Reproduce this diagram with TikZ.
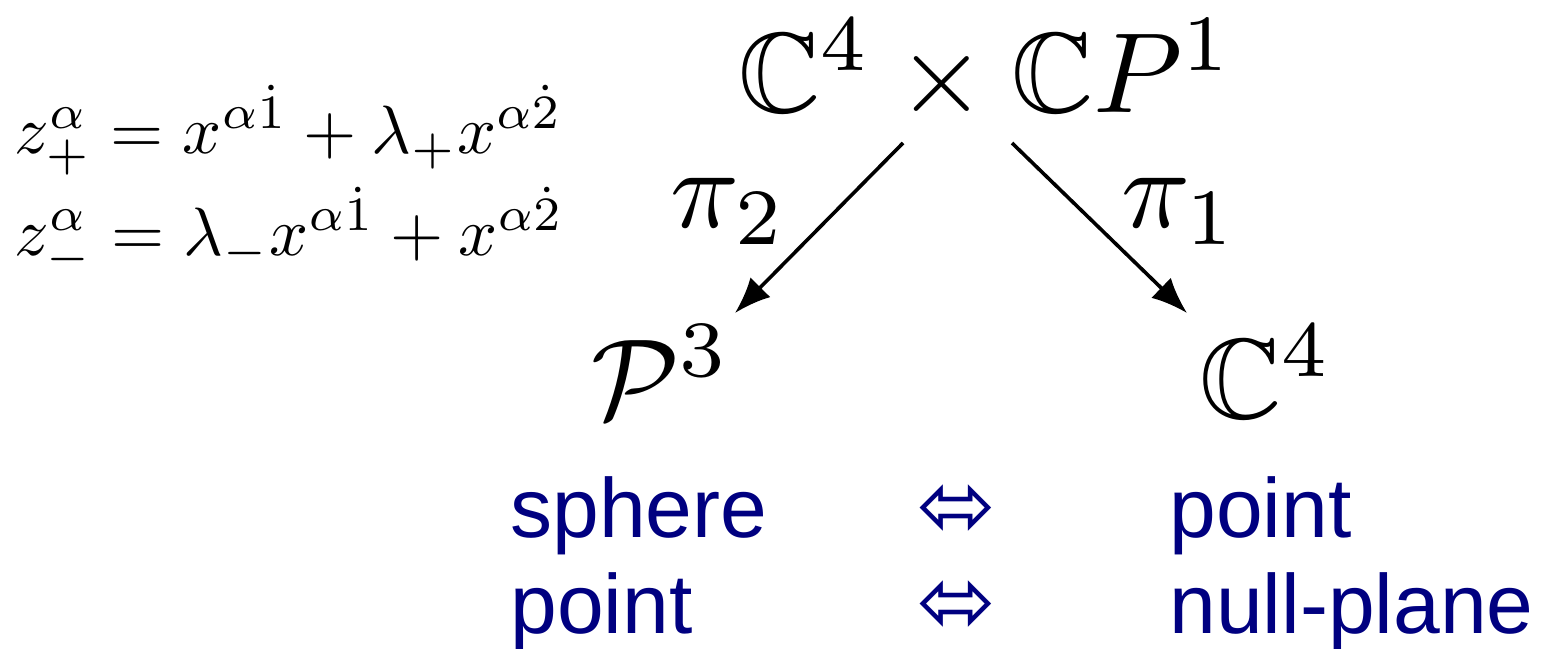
\documentclass[tikz,border=0pt]{standalone}
\usepackage{amsmath}
\usepackage{amssymb}
\usepackage{graphicx}
\usepackage[no-math]{fontspec}
\usepackage{tikz}
\usetikzlibrary{arrows.meta}
\usetikzlibrary{calc}
\usepackage{xcolor}
\definecolor{navyblue}{RGB}{0,0,128}
\newfontfamily\wordfont{Liberation Sans}
\newfontfamily\symbfont{DejaVu Sans}
\newcommand{\corrsize}{\fontsize{42}{50}\selectfont}
\newcommand{\diagm}[1]{\scalebox{5.7}{$#1$}}
\newcommand{\eqm}[1]{\scalebox{3.42}{$#1$}}

\begin{document}
\begin{tikzpicture}[x=0.5pt,y=-0.5pt,
  bigmath/.style={inner sep=0pt,anchor=base},
  eqn/.style={inner sep=0pt,anchor=base west},
  word/.style={text=navyblue,font=\wordfont\corrsize,inner sep=0pt,anchor=base west},
  dual/.style={text=navyblue,font=\symbfont\fontsize{47}{50}\selectfont,inner sep=0pt,anchor=base},
  map/.style={-{Latex[length=18pt,width=14pt]},line width=1.8pt}]
\useasboundingbox (0,0) rectangle (1541,648);
\node[eqn] (zp) at (14,153) {\eqm{z_+^\alpha = x^{\alpha\dot{1}} + \lambda_+ x^{\alpha\dot{2}}}};
\node[eqn] (zm) at (14,255) {\eqm{z_-^\alpha = \lambda_- x^{\alpha\dot{1}} + x^{\alpha\dot{2}}}};
\node[bigmath] (top) at (986,112) {\diagm{\mathbb{C}^4 \times \mathbb{C}P^1}};
\node[bigmath] (twist) at (661,418) {\diagm{\mathcal{P}^3}};
\node[bigmath] (mink) at (1266,418) {\diagm{\mathbb{C}^4}};
\draw[map] ($(top.base)+(-83,31)$) -- ($(twist.base)+(74,-105)$);
\draw[map] ($(top.base)+(26,31)$) -- ($(mink.base)+(-79,-105)$);
\node[bigmath] (pt) at (729,227) {\diagm{\pi_2}};
\node[bigmath] (po) at (1180,227) {\diagm{\pi_1}};
% dictionary
\node[word] (sph) at (510,537) {sphere};
\node[dual] (d1) at (957,537) {⬄};
\node[word] (pt1) at (1169,537) {point};
\node[word] (pt2) at (510,633) {point};
\node[dual] (d2) at (957,633) {⬄};
\node[word] (np) at (1169,633) {null-plane};
\end{tikzpicture}
\end{document}
